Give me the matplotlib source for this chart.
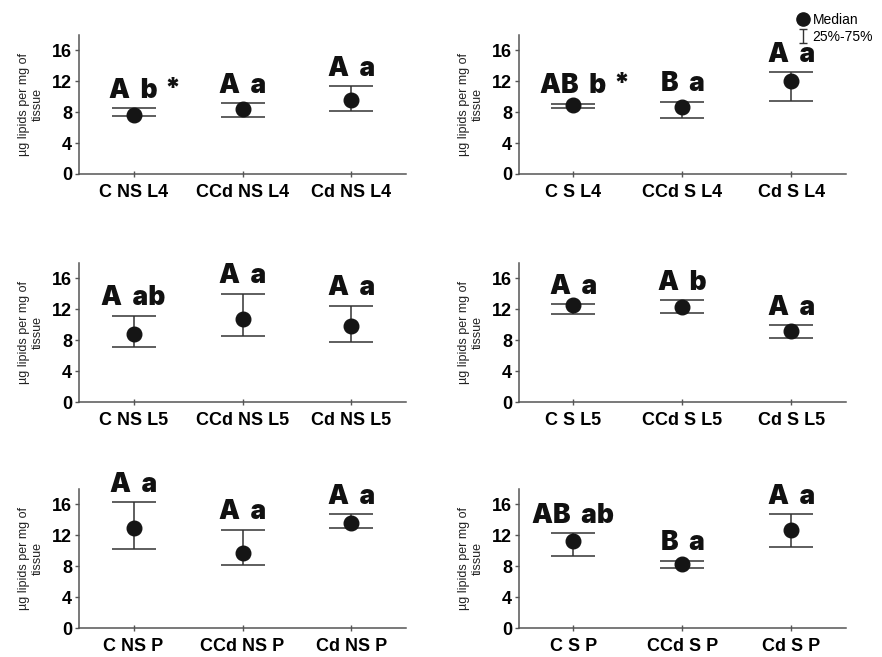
import matplotlib
matplotlib.use("Agg")
import matplotlib.pyplot as plt
from matplotlib.lines import Line2D
from matplotlib.path import Path
import numpy as np

plt.rcParams['font.family'] = ['Liberation Sans', 'DejaVu Sans']

# --------------------------------------------------
# data (median and 25%-75% range)
groups_NS_L4 = ["C NS L4", "CCd NS L4", "Cd NS L4"]
med_NS_L4 = [7.6, 8.35, 9.6]
q25_NS_L4 = [7.45, 7.4, 8.15]
q75_NS_L4 = [8.5, 9.2, 11.4]
let_NS_L4 = ["A b", "A a", "A a"]
star_NS_L4 = [True, False, False]

groups_S_L4 = ["C S L4", "CCd S L4", "Cd S L4"]
med_S_L4 = [8.9, 8.65, 12.0]
q25_S_L4 = [8.55, 7.2, 9.4]
q75_S_L4 = [9.1, 9.35, 13.15]
let_S_L4 = ["AB b", "B a", "A a"]
star_S_L4 = [True, False, False]

groups_NS_L5 = ["C NS L5", "CCd NS L5", "Cd NS L5"]
med_NS_L5 = [8.85, 10.8, 9.9]
q25_NS_L5 = [7.15, 8.55, 7.8]
q75_NS_L5 = [11.2, 14.05, 12.45]
let_NS_L5 = ["A ab", "A a", "A a"]
star_NS_L5 = [False, False, False]

groups_S_L5 = ["C S L5", "CCd S L5", "Cd S L5"]
med_S_L5 = [12.6, 12.25, 9.2]
q25_S_L5 = [11.35, 11.55, 8.3]
q75_S_L5 = [12.7, 13.15, 9.95]
let_S_L5 = ["A a", "A b", "A a"]
star_S_L5 = [False, False, False]

groups_NS_P = ["C NS P", "CCd NS P", "Cd NS P"]
med_NS_P = [13.0, 9.7, 13.6]
q25_NS_P = [10.2, 8.15, 13.0]
q75_NS_P = [16.3, 12.75, 14.75]
let_NS_P = ["A a", "A a", "A a"]
star_NS_P = [False, False, False]

groups_S_P = ["C S P", "CCd S P", "Cd S P"]
med_S_P = [11.3, 8.3, 12.7]
q25_S_P = [9.3, 7.8, 10.45]
q75_S_P = [12.25, 8.7, 14.75]
let_S_P = ["AB ab", "B a", "A a"]
star_S_P = [False, False, False]

panels = [
    (groups_NS_L4, med_NS_L4, q25_NS_L4, q75_NS_L4, let_NS_L4, star_NS_L4),
    (groups_S_L4, med_S_L4, q25_S_L4, q75_S_L4, let_S_L4, star_S_L4),
    (groups_NS_L5, med_NS_L5, q25_NS_L5, q75_NS_L5, let_NS_L5, star_NS_L5),
    (groups_S_L5, med_S_L5, q25_S_L5, q75_S_L5, let_S_L5, star_S_L5),
    (groups_NS_P, med_NS_P, q25_NS_P, q75_NS_P, let_NS_P, star_NS_P),
    (groups_S_P, med_S_P, q25_S_P, q75_S_P, let_S_P, star_S_P),
]

yticks = [0, 4, 8, 12, 16]
ylab = "µg lipids per mg of\ntissue"

# --------------------------------------------------
fig = plt.figure(figsize=(8.82, 6.57), dpi=100)

lefts = [0.0896, 0.5884]
bottoms = [0.7352, 0.3881, 0.0441]
w, h = 0.3707, 0.2116

spine_col = '#555555'
line_col = '#333333'
big = dict(fontsize=19, fontweight=900, family=['Inter', 'DejaVu Sans'], color='#111111')

for i, (groups, med, q25, q75, lets, stars) in enumerate(panels):
    ax = fig.add_axes([lefts[i % 2], bottoms[i // 2], w, h])
    x = np.arange(len(groups))
    med = np.array(med)
    yerr = [med - np.array(q25), np.array(q75) - med]

    ax.errorbar(x, med, yerr=yerr, fmt='none', ecolor=line_col,
                elinewidth=1.1, capsize=15.5, capthick=1.1)
    ax.plot(x, med, 'o', color='#151515', ms=10.5, zorder=3)

    for xi, top, s, st in zip(x, q75, lets, stars):
        # Inter's space is narrow, double it to match the original spacing
        t = ax.annotate(s.replace(' ', '  '), xy=(xi, top), xytext=(0, 7.5),
                        textcoords='offset points', ha='center', va='baseline',
                        annotation_clip=False, **big)
        if st:
            ax.annotate('*', xy=(1, 1), xycoords=t, xytext=(5, 1),
                        textcoords='offset points', ha='left', va='top', **big)

    ax.set_xlim(-0.5, 2.5)
    ax.set_ylim(0, 18)
    ax.set_yticks(yticks)
    ax.set_xticks(x)
    ax.set_xticklabels(groups, fontsize=13, fontweight='bold')
    ax.tick_params(axis='y', labelsize=13, length=3, width=1, color=spine_col, pad=2)
    ax.tick_params(axis='x', direction='inout', length=5, width=1, color=spine_col, pad=5)
    for lab in ax.get_yticklabels():
        lab.set_fontweight('bold')
    for sp in ['top', 'right']:
        ax.spines[sp].set_visible(False)
    for sp in ['left', 'bottom']:
        ax.spines[sp].set_color(spine_col)
        ax.spines[sp].set_linewidth(1.1)
    ax.set_ylabel(ylab, fontsize=9, labelpad=6, color='#222222')

# legend in the top right corner
ibeam = Path([(-0.6, -1), (0.6, -1), (0, -1), (0, 1), (-0.6, 1), (0.6, 1)],
             [Path.MOVETO, Path.LINETO, Path.MOVETO, Path.LINETO, Path.MOVETO, Path.LINETO])
handles = [Line2D([], [], ls='none', marker='o', color='#151515', ms=9.5),
           Line2D([], [], ls='none', marker=ibeam, color='#333333', mew=1.0, ms=10,
                  fillstyle='none')]
fig.legend(handles, ["Median", "25%-75%"], loc='upper right',
           bbox_to_anchor=(0.99, 0.98), frameon=False, fontsize=10,
           handlelength=0.8, handletextpad=0.3, labelspacing=0.2,
           borderpad=0, borderaxespad=0)

fig.savefig("out.png", dpi=100)
